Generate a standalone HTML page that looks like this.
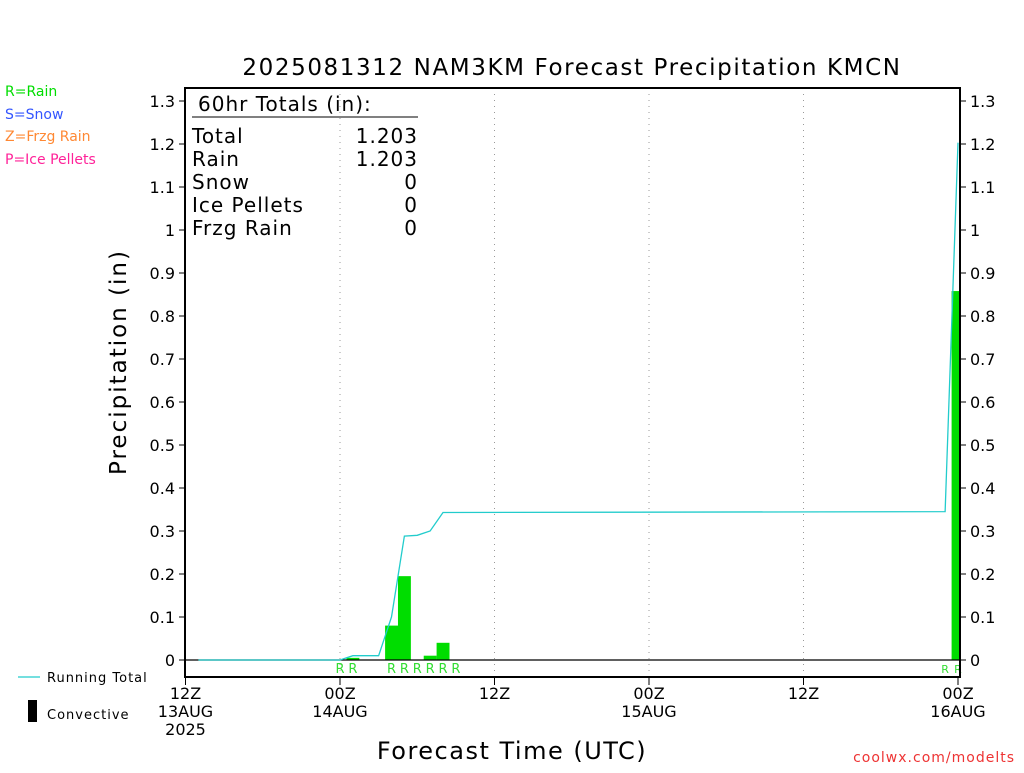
<!DOCTYPE html>
<html><head><meta charset="utf-8"><style>
body{margin:0;background:#fff;width:1024px;height:768px;overflow:hidden}
svg text{font-family:"DejaVu Sans","Liberation Sans",sans-serif}
</style></head><body>
<svg id="c" width="1024" height="768">
<text x="572" y="75" font-size="23" text-anchor="middle" fill="#000" letter-spacing="1.6">2025081312 NAM3KM Forecast Precipitation KMCN</text>
<text x="5" y="96" font-size="14" fill="#00dd00">R=Rain</text>
<text x="5" y="119" font-size="14" fill="#3355ff">S=Snow</text>
<text x="5" y="141" font-size="14" fill="#ff8833">Z=Frzg Rain</text>
<text x="5" y="164" font-size="14" fill="#ff2299">P=Ice Pellets</text>
<text x="126" y="362" font-size="23" text-anchor="middle" transform="rotate(-90 126 362)" letter-spacing="2">Precipitation (in)</text>
<text x="512" y="759" font-size="24" text-anchor="middle" letter-spacing="1.5">Forecast Time (UTC)</text>
<text x="1015" y="762" font-size="14" text-anchor="end" fill="#ee3333" letter-spacing="1">coolwx.com/modelts</text>
<line x1="18" y1="677" x2="40" y2="677" stroke="#22cccc" stroke-width="1.2"/>
<text x="47" y="682" font-size="13" letter-spacing="1">Running Total</text>
<rect x="28" y="700" width="9" height="22" fill="#000"/>
<text x="47" y="719" font-size="13" letter-spacing="1">Convective</text>
<g font-size="20" letter-spacing="1">
<text x="198" y="111">60hr Totals (in):</text>
<line x1="192" y1="117" x2="418" y2="117" stroke="#000"/>
<text x="192" y="143">Total</text><text x="418" y="143" text-anchor="end">1.203</text>
<text x="192" y="166">Rain</text><text x="418" y="166" text-anchor="end">1.203</text>
<text x="192" y="189">Snow</text><text x="418" y="189" text-anchor="end">0</text>
<text x="192" y="212">Ice Pellets</text><text x="418" y="212" text-anchor="end">0</text>
<text x="192" y="235">Frzg Rain</text><text x="418" y="235" text-anchor="end">0</text>
</g>
</svg>
<script>
const barHours=[13,16,17,19,20,60];
const barValues=[0.005,0.08,0.195,0.01,0.04,0.858];
const totalHours=[1,12,13,14,15,16,17,18,19,20,59,60];
const totalValues=[0,0,0.01,0.01,0.01,0.1,0.288,0.29,0.3,0.343,0.345,1.203];
const rainHours=[12,13,16,17,18,19,20,21,59,60];
const yTicks=[0,0.1,0.2,0.3,0.4,0.5,0.6,0.7,0.8,0.9,1,1.1,1.2,1.3];
const xTickHours=[0,12,24,36,48,60];
const xTickLabels=[["12Z","13AUG","2025"],["00Z","14AUG"],["12Z"],["00Z","15AUG"],["12Z"],["00Z","16AUG"]];
const L=185,R=960,T=88,B=677;
const X=h=>185.5+h*12.875;
const Y=v=>660-v*(559/1.3);
const svg=document.getElementById('c');
const NS='http://www.w3.org/2000/svg';
function mk(tag,attrs,parent){const e=document.createElementNS(NS,tag);for(const k in attrs)e.setAttribute(k,attrs[k]);(parent||svg).appendChild(e);return e;}
xTickHours.forEach((h,i)=>{
 if(i>0&&i<xTickHours.length-1){const g=mk('line',{x1:X(h),x2:X(h),y1:T,y2:B,stroke:'#999','stroke-dasharray':'1,5'});
 
 }
});
const cp=mk('clipPath',{id:'clip'});mk('rect',{x:L,y:T,width:R-L,height:B-T},cp);
barHours.forEach((h,i)=>{
 const r=mk('rect',{x:X(h)-6.4,y:Y(barValues[i]),width:12.9,height:Y(0)-Y(barValues[i]),fill:'#00dd00','clip-path':'url(#clip)'});
 
 
});
const z=mk('line',{x1:L,x2:R,y1:Y(0),y2:Y(0),stroke:'#000','stroke-width':1.3});


const pl=mk('polyline',{points:totalHours.map((h,i)=>X(h)+','+Y(totalValues[i])).join(' '),fill:'none',stroke:'#22cccc','stroke-width':1.3});


rainHours.forEach(h=>{
 const t=mk('text',{x:X(h),y:673,'font-size':(h>=59?11:13),'text-anchor':'middle',fill:'#33dd33'});
 t.textContent='R';
 
 
});
const f=mk('rect',{x:L,y:T,width:R-L,height:B-T,fill:'none',stroke:'#000','stroke-width':2});


yTicks.forEach(v=>{
 const y=Y(v);
 mk('line',{x1:L-6,x2:L,y1:y,y2:y,stroke:'#000'});
 mk('line',{x1:R,x2:R+6,y1:y,y2:y,stroke:'#000'});
 const lab=String(v);
 const t1=mk('text',{x:L-10,y:y+6,'font-size':16,'text-anchor':'end'});t1.textContent=lab;
 
 
 const t2=mk('text',{x:R+10,y:y+6,'font-size':16}); t2.textContent=lab;
 
 
});
xTickHours.forEach((h,i)=>{
 const x=X(h);
 mk('line',{x1:x,x2:x,y1:B,y2:B+8,stroke:'#000'});
 xTickLabels[i].forEach((s,j)=>{
  const t=mk('text',{x:x,y:699+j*18,'font-size':16,'text-anchor':'middle'});t.textContent=s;
  
  
 });
});
</script>
</body></html>
